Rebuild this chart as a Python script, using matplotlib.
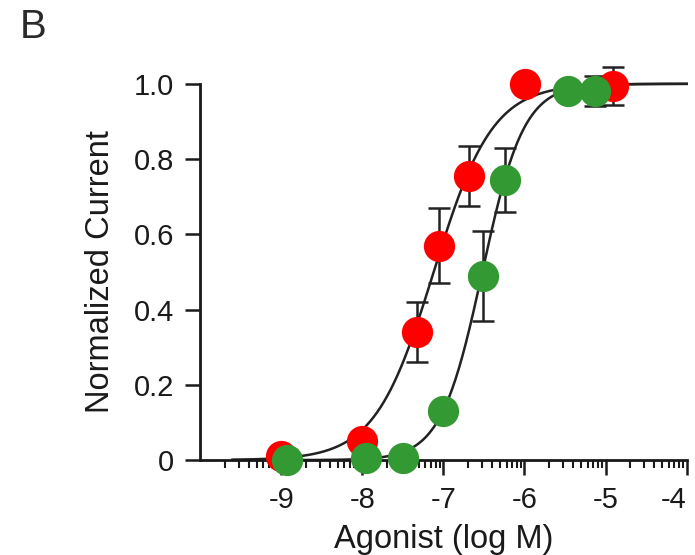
import numpy as np
import matplotlib
matplotlib.use("Agg")
import matplotlib.pyplot as plt
from matplotlib.ticker import FixedLocator

plt.rcParams['font.family'] = ['Liberation Sans', 'DejaVu Sans']

# Data (log M agonist concentration, normalized current)
red_x = [-9.0, -8.0, -7.32, -7.06, -6.68, -5.99, -4.91]
red_y = [0.01, 0.05, 0.34, 0.57, 0.755, 1.0, 0.995]
red_err = [0.0, 0.0, 0.08, 0.10, 0.08, 0.0, 0.05]

green_x = [-8.93, -7.96, -7.5, -7.0, -6.51, -6.24, -5.46, -5.13]
green_y = [0.0, 0.005, 0.005, 0.13, 0.49, 0.745, 0.98, 0.98]
green_err = [0.0, 0.0, 0.0, 0.0, 0.12, 0.085, 0.0, 0.04]

# Hill fit parameters
red_ec50, red_hill = -7.12, 1.2
green_ec50, green_hill = -6.52, 1.7

x_ticks = [-9, -8, -7, -6, -5, -4]
x_tick_labels = ['-9', '-8', '-7', '-6', '-5', '-4']
y_ticks = [0, 0.2, 0.4, 0.6, 0.8, 1.0]
y_tick_labels = ['0', '0.2', '0.4', '0.6', '0.8', '1.0']

fig = plt.figure(figsize=(6.95, 5.55), dpi=100)
ax = fig.add_axes([0.288, 0.171, 0.700, 0.678])

xc = np.linspace(-9.6, -4.0, 400)
def hill(x, ec50, n):
    return 1.0 / (1.0 + 10 ** ((ec50 - x) * n))

curve_col = '#222222'
ax.plot(xc, hill(xc, red_ec50, red_hill), color=curve_col, lw=1.8, zorder=2, clip_on=False)
ax.plot(xc, hill(xc, green_ec50, green_hill), color=curve_col, lw=1.8, zorder=2, clip_on=False)

def draw_err(xs, ys, es):
    for x, y, e in zip(xs, ys, es):
        if e > 0:
            ax.errorbar([x], [y], yerr=[e], fmt='none', ecolor=curve_col,
                        elinewidth=1.8, capsize=8, capthick=1.8, zorder=3, clip_on=False)

draw_err(red_x, red_y, red_err)
draw_err(green_x, green_y, green_err)

ax.plot(red_x, red_y, 'o', ms=22.5, color='#ff0000', mec='none', zorder=4, clip_on=False)
ax.plot(green_x, green_y, 'o', ms=22.5, color='#339933', mec='none', zorder=5, clip_on=False)

ax.set_xlim(-10, -4)
ax.set_ylim(0, 1.0)

ax.spines['top'].set_visible(False)
ax.spines['right'].set_visible(False)
for s in ('left', 'bottom'):
    ax.spines[s].set_linewidth(2.0)
    ax.spines[s].set_color('#1a1a1a')

ax.set_xticks(x_ticks)
ax.set_xticklabels(x_tick_labels)
minor = []
for d in range(-10, -4):
    for k in range(2, 10):
        minor.append(d + np.log10(k))
ax.xaxis.set_minor_locator(FixedLocator(minor))
ax.set_yticks(y_ticks)
ax.set_yticklabels(y_tick_labels)

ax.tick_params(axis='both', which='major', length=10.5, width=1.8, labelsize=21,
               colors='#1a1a1a', direction='out', pad=8)
ax.tick_params(axis='x', which='minor', length=6, width=1.5, direction='out', colors='#1a1a1a')

# keep the last x tick label inside the figure, as in the reference
ax.get_xticklabels()[-1].set_horizontalalignment('right')

ax.set_xlabel('Agonist (log M)', fontsize=23.5, color='#1a1a1a', labelpad=7)
ax.set_ylabel('Normalized Current', fontsize=23.5, color='#1a1a1a', labelpad=13)

fig.text(0.028, 0.985, 'B', fontsize=29, color='#2a2a2a', ha='left', va='top')

fig.savefig('out.png', dpi=100)
